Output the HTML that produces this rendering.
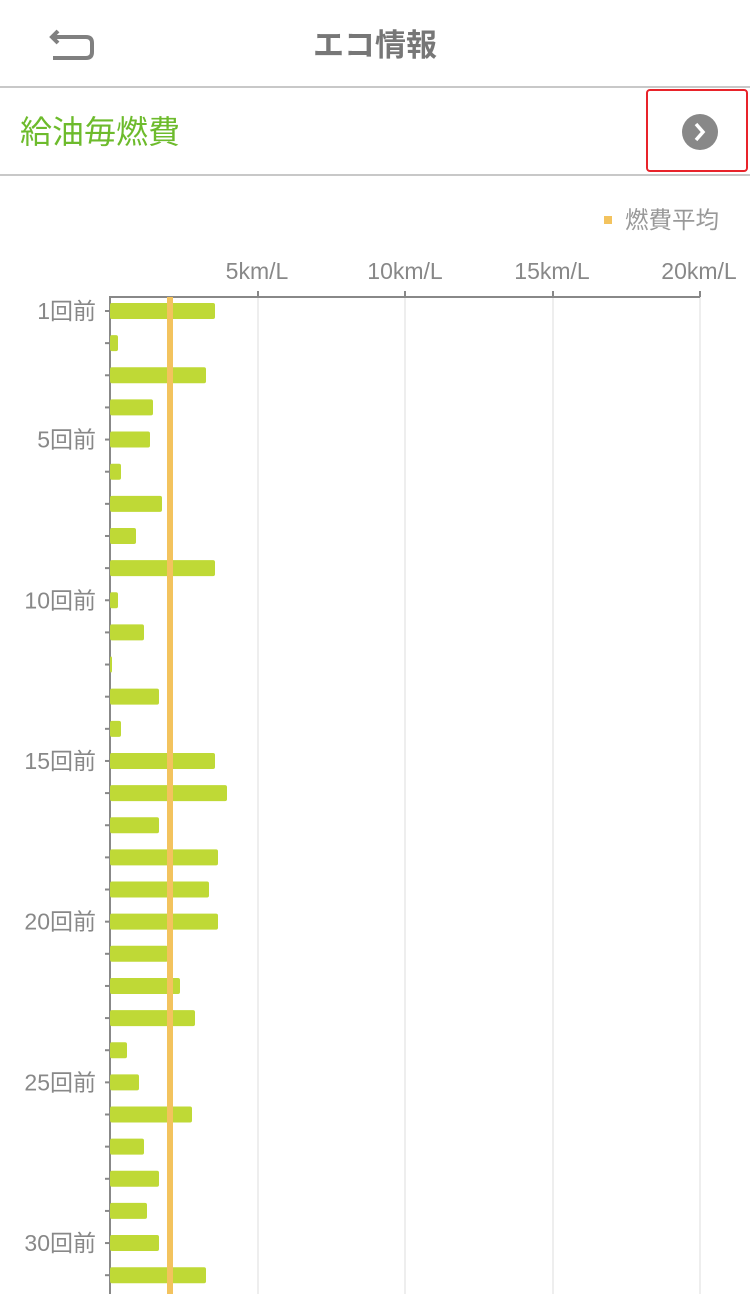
<!DOCTYPE html>
<html><head><meta charset="utf-8"><style>
html,body{margin:0;padding:0;background:#fff;width:750px;height:1294px;overflow:hidden;font-family:"Liberation Sans","Noto Sans CJK JP",sans-serif}
</style></head><body>
<svg width="750" height="1294" xmlns="http://www.w3.org/2000/svg" font-family="Liberation Sans, Noto Sans CJK JP, sans-serif">
<path d="M58 31 L52 37 L58 43 M52 37 H86 Q92 37 92 43 V52 Q92 58 86 58 H53" fill="none" stroke="#808080" stroke-width="4"/>
<text x="375" y="56" font-size="31" font-weight="bold" fill="#777" text-anchor="middle">エコ情報</text>
<rect x="0" y="86" width="750" height="2" fill="#c8c8c8"/>
<text x="20" y="143" font-size="32" fill="#6dbb2c">給油毎燃費</text>
<rect x="647" y="90" width="100" height="81" rx="3" fill="none" stroke="#e8232a" stroke-width="2"/>
<circle cx="700" cy="132" r="18" fill="#888"/>
<path d="M696 124 L703 132 L696 140" fill="none" stroke="#fff" stroke-width="3.5"/>
<rect x="0" y="174" width="750" height="2" fill="#c8c8c8"/>
<rect x="604" y="216" width="8" height="8" fill="#f3c35e"/>
<text x="625" y="228" font-size="23.5" fill="#999">燃費平均</text>
<g font-size="23" fill="#888" text-anchor="middle">
<text x="257" y="279">5km/L</text><text x="405" y="279">10km/L</text><text x="552" y="279">15km/L</text><text x="699" y="279">20km/L</text>
</g>
<g stroke="#ddd" stroke-width="1">
<line x1="258" y1="297" x2="258" y2="1294"/><line x1="405" y1="297" x2="405" y2="1294"/><line x1="553" y1="297" x2="553" y2="1294"/><line x1="700" y1="297" x2="700" y2="1294"/>
</g>
<g stroke="#888" stroke-width="2">
<line x1="110" y1="297" x2="700" y2="297"/><line x1="110" y1="296" x2="110" y2="1294"/>
<line x1="258" y1="291" x2="258" y2="297"/><line x1="405" y1="291" x2="405" y2="297"/><line x1="553" y1="291" x2="553" y2="297"/><line x1="700" y1="291" x2="700" y2="297"/>
</g>
<g id="bars" fill="#bfd936"></g>
<g id="lbl" font-size="23" fill="#888" text-anchor="end"></g>
<rect x="167" y="297" width="6" height="997" fill="#f3c35e"/>
</svg>
<script>
var ends=[215,118,206,153,150,121,162,136,215,118,144,112,159,121,215,227,159,218,209,218,168,180,195,127,139,192,144,159,147,159,206];
var b=document.getElementById('bars'),l=document.getElementById('lbl'),ns='http://www.w3.org/2000/svg';
ends.forEach(function(e,i){var y=311+i*32.14;
var r=document.createElementNS(ns,'rect');r.setAttribute('x',110);r.setAttribute('y',y-8);r.setAttribute('width',e-110);r.setAttribute('height',16);r.setAttribute('rx',2);b.appendChild(r);
var t=document.createElementNS(ns,'line');t.setAttribute('x1',105);t.setAttribute('x2',110);t.setAttribute('y1',y);t.setAttribute('y2',y);t.setAttribute('stroke','#888');t.setAttribute('stroke-width',2);l.appendChild(t);
var n=i+1;if(n==1||n%5==0){var tx=document.createElementNS(ns,'text');tx.setAttribute('x',96);tx.setAttribute('y',y+8);tx.textContent=n+'回前';l.appendChild(tx);}
});
</script>
</body></html>
